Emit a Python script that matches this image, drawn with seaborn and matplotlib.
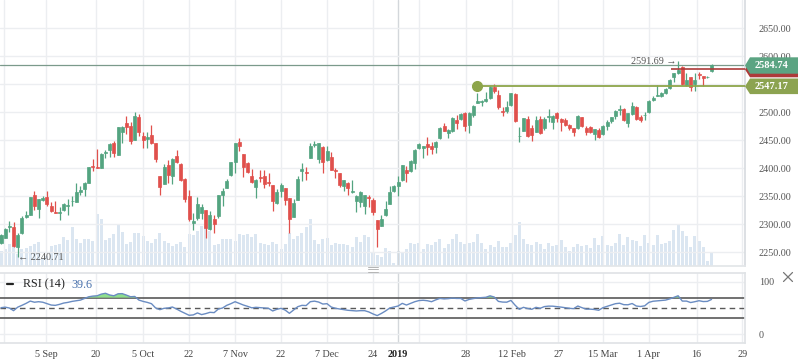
import numpy as np
import pandas as pd
import matplotlib
matplotlib.use('Agg')
import matplotlib.pyplot as plt
from matplotlib.patches import Polygon
from matplotlib.lines import Line2D
import seaborn as sns

# daily candles (bar index 0..170)
opens = [2267, 2276, 2295, 2296, 2260, 2284, 2313, 2317, 2352, 2328, 2344, 2348, 2333, 2322, 2321, 2326, 2333, 2341, 2340, 2358,
         2363, 2374, 2404, 2402, 2401, 2427, 2433, 2445, 2424, 2465, 2480, 2476, 2451, 2491, 2458, 2452, 2460, 2445, 2386, 2372,
         2405, 2386, 2422, 2408, 2381, 2350, 2303, 2311, 2320, 2326, 2292, 2310, 2314, 2353, 2364, 2388, 2412, 2447, 2425, 2409,
         2386.3, 2367.2, 2384, 2386.3, 2375.5, 2370.2, 2337.5, 2360.1, 2365.4, 2347.6, 2313.7, 2344, 2396, 2394, 2419, 2441.6,
         2417.2, 2437.5, 2414.8, 2419.6, 2396.5, 2391, 2368.4, 2374.4, 2357.5, 2342.2, 2340.4, 2332.7, 2349, 2343.4, 2307.1,
         2297.6, 2316.6, 2336.3, 2359.5, 2368.4, 2379.1, 2397, 2395.2, 2410.1, 2435.7, 2435.7, 2443.4, 2439.8, 2438.6, 2454.7,
         2475.5, 2463.6, 2467.2, 2486.3, 2487.5, 2499.4, 2477.3, 2495.2, 2517.2, 2519, 2521, 2524.9, 2545.8, 2530.9,
         2502, 2502.9, 2513, 2532.7, 2457, 2467.2, 2487.5, 2471.4, 2465.4, 2487.5, 2471.4, 2491.6, 2483.3, 2499.4, 2488.1,
         2486.3, 2477.3, 2471.4, 2471.4, 2491, 2472.6, 2473.2, 2460.7, 2468.4, 2460.7, 2475.5, 2485.1, 2493.4, 2504.5, 2505.3,
         2481.5, 2497, 2510.1, 2491, 2494.3, 2500, 2522, 2529.5, 2529.1, 2535.1, 2542.8, 2562.4, 2569.6, 2581.5, 2548.8,
         2562.4, 2550.5, 2567.5, 2564.8, 2562.4, 2574]
highs = [2283, 2293, 2305, 2304, 2284, 2314, 2324, 2349, 2359, 2346, 2351, 2359, 2339, 2342, 2330, 2338, 2345, 2350, 2373, 2368,
         2376, 2403, 2416, 2434, 2427, 2433, 2445, 2449, 2474, 2476, 2493, 2483, 2500, 2497, 2464, 2464, 2477, 2446, 2387, 2408,
         2415, 2418, 2433, 2409, 2382, 2361, 2321, 2348, 2336, 2326, 2323, 2317, 2352, 2365, 2381, 2412, 2446, 2454, 2425, 2411,
         2398.8, 2380.3, 2397, 2397, 2391, 2370.2, 2362.5, 2373.2, 2365.4, 2347.6, 2344.6, 2386.3, 2408.9, 2401.7, 2444.6,
         2449.4, 2445.8, 2439.8, 2439.8, 2428.5, 2399.9, 2392.2, 2379.1, 2376.1, 2379.1, 2352.3, 2359.5, 2352.3, 2352.3,
         2347.6, 2307.1, 2316.6, 2341.6, 2368.4, 2370.2, 2386.3, 2405.9, 2404.1, 2414.8, 2433.9, 2445.8, 2439.8, 2455.3,
         2447, 2448.2, 2473, 2481.5, 2469.6, 2492.2, 2495.2, 2498.2, 2501.1, 2499.9, 2513, 2533.9, 2522.5, 2536.9, 2547.6,
         2550.5, 2539.8,
         2510.1, 2520.2, 2535.1, 2533.9, 2474.4, 2489.2, 2493.4, 2477.3, 2493.4, 2493.4, 2491, 2505.3, 2495.2, 2501.1, 2489.2,
         2489.2, 2478.5, 2471.4, 2495.2, 2492.2, 2475.5, 2475.5, 2470.8, 2471.4, 2477.3, 2486.3, 2492.2, 2504.1, 2513, 2507.1,
         2499.4, 2519, 2511.3, 2495.2, 2501.1, 2522, 2529.1, 2548.8, 2535.7, 2542.8, 2558.9, 2570.8, 2591.69, 2582.7, 2569.6,
         2563.6, 2570.8, 2572.6, 2564.8, 2564.8, 2585.5]
lows = [2264, 2275, 2287, 2260, 2240.71, 2283, 2312, 2317, 2326, 2312, 2342, 2333, 2322, 2321, 2307, 2323, 2316, 2333, 2340, 2352,
        2351, 2373, 2396, 2401, 2401, 2418, 2421, 2421, 2423, 2446, 2462, 2443, 2451, 2458, 2437, 2437, 2443, 2411, 2352, 2372,
        2374, 2372, 2410, 2377, 2340, 2305, 2290, 2308, 2309, 2276, 2290, 2285, 2312, 2333, 2364, 2386, 2392, 2431, 2385, 2392,
        2374.4, 2347.6, 2376.1, 2365.4, 2368.4, 2324.4, 2336.3, 2349.4, 2334.5, 2285.1, 2312.5, 2343.4, 2377.9, 2379.1,
        2417.8, 2437.5, 2410.1, 2392.2, 2413.6, 2397, 2383.3, 2367.2, 2360.1, 2352.3, 2355.3, 2322.6, 2330.3, 2318.4, 2330.3,
        2316.6, 2260.1, 2297, 2315.4, 2335.7, 2357.1, 2351.2, 2377.9, 2376.1, 2394, 2398.2, 2433.9, 2419, 2424.4, 2425.6,
        2426.7, 2452.9, 2466.6, 2454.7, 2465.4, 2470.8, 2485.7, 2466.6, 2463.6, 2492.2, 2516, 2511.9, 2519, 2523.2, 2534.5,
        2506.5,
        2494, 2498.2, 2511.9, 2483.3, 2447.6, 2466, 2456.5, 2449.4, 2464.2, 2461.3, 2468.4, 2483.3, 2470.2, 2483.3, 2467.2,
        2476.1, 2468.4, 2457.7, 2470.2, 2474.4, 2459.5, 2462.5, 2450.5, 2453.5, 2458.9, 2468.4, 2481.5, 2487.5, 2495.2, 2484.5,
        2473.2, 2495.2, 2486.3, 2482.1, 2486.3, 2498.2, 2520.8, 2529.1, 2526.7, 2532.7, 2541.6, 2554.7, 2568.4, 2549.4, 2547,
        2538.6, 2538.6, 2558.9, 2547, 2560.7, 2571.4]
closes = [2281, 2291, 2297, 2261, 2281, 2312, 2317, 2348, 2332, 2345, 2347, 2336, 2323, 2321, 2322, 2336, 2334, 2342, 2358, 2361,
          2373, 2402, 2403, 2401, 2426, 2429, 2443, 2428, 2473, 2473, 2473, 2449, 2493, 2465, 2451, 2455, 2445, 2417, 2367, 2402,
          2388, 2417, 2412, 2379, 2345, 2310, 2306, 2336, 2331, 2294, 2316, 2301, 2352, 2360, 2377, 2411, 2445, 2439, 2403, 2394,
          2375.5, 2379.1, 2382, 2372, 2373.5, 2342.2, 2358.3, 2370.2, 2343.4, 2310.1, 2337.5, 2380.9, 2398, 2392, 2439.8,
          2443.6, 2445.8, 2411.9, 2431.5, 2397, 2395.2, 2370.2, 2379.1, 2365.4, 2359, 2350.6, 2357.1, 2352.3, 2347.5, 2322,
          2292.2, 2308.9, 2326.8, 2357.7, 2368.4, 2375.5, 2405.3, 2391, 2413, 2432.7, 2442.8, 2439.8, 2437.5, 2433.9, 2447,
          2472, 2467.2, 2468.4, 2490.4, 2481.5, 2497, 2476.1, 2498.2, 2511.3, 2519.5, 2521, 2523, 2544.6, 2538, 2510.1,
          2500.5, 2508.9, 2533.9, 2484.5, 2458.5, 2489.2, 2457.7, 2459.5, 2486.3, 2463.6, 2488.1, 2493.4, 2493.4, 2489.2,
          2483.3, 2477.3, 2472.6, 2465.4, 2493.4, 2475.5, 2465.4, 2465.4, 2469.6, 2456.5, 2475.5, 2483.3, 2491, 2502.9, 2506,
          2486.3, 2498.2, 2511.9, 2487.5, 2486.3, 2496, 2520.2, 2526.1, 2531, 2535.1, 2541, 2557.7, 2569.6, 2575.5, 2550.5,
          2557.7, 2544.6, 2557.7, 2565.7, 2560.7, 2563.6, 2584.74]
volumes = [45, 52, 67, 60, 35, 50, 55, 60, 67, 73, 20, 30, 60, 63, 67, 87, 78, 117, 80, 70,
           82, 82, 75, 157, 140, 77, 83, 97, 122, 102, 67, 72, 100, 98, 90, 75, 70, 80, 100, 75,
           70, 60, 67, 72, 57, 95, 92, 105, 120, 120, 105, 62, 65, 80, 80, 80, 75, 97, 92, 97,
           88, 97, 70, 67, 62, 73, 67, 52, 67, 98, 82, 90, 100, 118, 140, 78, 67, 80, 85, 63,
           70, 67, 65, 62, 58, 88, 73, 93, 88, 38, 34, 28, 55, 45, 10, 45, 38, 52, 70, 67,
           70, 50, 67, 64, 73, 80, 55, 67, 80, 97, 73, 67, 70, 73, 97, 70, 52, 62, 58, 76,
           58, 58, 70, 94, 133, 82, 67, 64, 73, 67, 52, 70, 61, 64, 79, 58, 46, 58, 67, 61,
           64, 55, 85, 64, 91, 64, 61, 70, 97, 64, 88, 79, 76, 61, 94, 70, 64, 94, 67, 70,
           76, 109, 127, 106, 91, 58, 91, 76, 58, 16, 40]
rsi = [50.6, 51.6, 50.0, 44.9, 51.6, 55.1, 58.9, 63.3, 61.1, 62.1, 61.1, 58.3, 55.7, 55.1, 57.0, 59.5, 60.8, 62.7, 64.0, 65.2,
       68.4, 71.6, 72.9, 73.5, 76.7, 78.3, 75.0, 73.5, 77.3, 77.6, 74.8, 71.6, 72.2, 65.2, 62.7, 60.8, 58.3, 50.0, 46.8, 49.4,
       50.0, 51.9, 48.1, 43.7, 39.8, 36.0, 36.7, 40.5, 37.3, 39.2, 41.7, 41.1, 48.1, 50.0, 55.1, 58.3, 62.1, 58.9, 55.7, 53.2,
       50.3, 51.3, 50.6, 50.0, 49.4, 44.3, 47.5, 49.4, 45.9, 39.8, 46.2, 52.5, 55.1, 54.7, 62.1, 63.2, 61.4, 57.6, 58.3, 51.9,
       49.4, 48.1, 46.8, 45.6, 44.9, 44.3, 44.9, 44.9, 42.4, 38.6, 35.4, 39.5, 44.3, 50.0, 51.9, 53.8, 58.9, 55.7, 58.9, 62.1,
       64.3, 64.9, 64.0, 62.1, 65.6, 68.4, 67.5, 68.0, 69.0, 68.4, 68.4, 63.5, 66.5, 68.1, 69.4, 69.9, 70.6, 73.4, 71.1, 62.7,
       61.4, 61.2, 64.6, 55.4, 47.5, 51.3, 49.0, 47.5, 51.3, 49.4, 52.7, 53.6, 53.5, 52.7, 51.7, 50.6, 49.4, 48.7, 53.8, 50.6,
       47.8, 47.8, 47.1, 45.6, 50.6, 53.2, 55.7, 58.3, 59.2, 56.4, 56.2, 58.6, 53.8, 52.9, 54.2, 60.8, 63.0, 63.7, 64.6, 65.2,
       67.5, 70.6, 73.5, 63.3, 63.3, 60.5, 62.1, 64.0, 62.4, 62.7, 66.5]

date_ticks = [0.6, 10.8, 22.7, 33.9, 45, 56, 67, 78, 89, 95, 100, 111.2, 122.2, 133.3, 144, 155, 166.4, 177.3]
date_labels = ['', '5 Sep', '20', '5 Oct', '22', '7 Nov', '22', '7 Dec', '24', '2019', '', '28', '12 Feb', '27',
               '15 Mar', '1 Apr', '16', '29']
price_ticks = [2250, 2300, 2350, 2400, 2450, 2500, 2550, 2600, 2650]
# 2550 sits under the level tag on the scale, so it carries no text
price_labels = ['2250.00', '2300.00', '2350.00', '2400.00', '2450.00', '2500.00', '', '2600.00', '2650.00']

last_close = 2584.74
level_line = 2547.17
red_level = 2577
high_mark = 2591.69
low_mark = 2240.71

sns.set_theme(style='white')
plt.rcParams['font.family'] = ['Liberation Serif', 'DejaVu Serif']

df = pd.DataFrame({'open': opens, 'high': highs, 'low': lows, 'close': closes,
                   'volume': volumes, 'rsi': rsi})
df['bar'] = np.arange(len(df))
green, red = '#53a480', '#e0504c'
cols = np.where(df['close'] >= df['open'], green, red)

W, H = 798, 363
fig = plt.figure(figsize=(W / 100, H / 100), dpi=100)


def px(x, y):
    return x / W, 1 - y / H


ax = fig.add_axes([0, 1 - 266 / H, 745 / W, 266 / H])
ax_r = fig.add_axes([0, 1 - 343 / H, 745 / W, 70 / H], sharex=ax)
ax_v = ax.twinx()
ax_v.set_zorder(1)
ax.set_zorder(2)
ax.patch.set_visible(False)
ax_v.patch.set_visible(True)
ax_v.patch.set_facecolor('white')

# volume
ax_v.bar(df['bar'], df['volume'], width=0.72, color='#dbe6f1', linewidth=0)
ax_v.set_ylim(0, 798)
ax_v.set_yticks([])
for s in ax_v.spines.values():
    s.set_visible(False)

# candles
ax.vlines(df['bar'], df['low'], df['high'], colors=cols, lw=0.9, zorder=3)
ax.bar(df['bar'], (df['close'] - df['open']).abs(), bottom=df[['open', 'close']].min(axis=1),
       width=0.72, color=cols, edgecolor=cols, linewidth=0.5, zorder=4)

# reference lines
ax.axhline(last_close, color='#7b9a8b', lw=0.9, zorder=2)
ax.hlines(level_line, 114, 178, color='#8da54a', lw=1.3, zorder=5)
ax.plot([114], [level_line], 'o', color='#8da54a', ms=7, zorder=6)
ax.hlines(red_level, 160.3, 178, color='#ad3b3a', lw=1.2, zorder=5)
ax.text(161.5, 2590, f'{high_mark:.2f} \u2192', ha='right', va='center', fontsize=7.3, color='#555555', zorder=6)
ax.text(4.15, 2241.5, f'\u2190 {low_mark:.2f}', ha='left', va='center', fontsize=7.3, color='#555555', zorder=6)

ax.set_xlim(-0.24, 178)
ax.set_ylim(2225.5, 2700.5)
ax.yaxis.tick_right()
ax.set_yticks(price_ticks)
ax.set_yticklabels(price_labels)
ax.tick_params(axis='y', length=0, pad=10, labelsize=7.3, labelcolor='#555555')
ax.tick_params(axis='x', length=0, labelbottom=False)
ax.grid(True, color='#eceef1', lw=1)
ax.set_axisbelow(True)
for k in ['top', 'left']:
    ax.spines[k].set_visible(False)
ax.spines['right'].set_color('#d8dce0')
ax.spines['bottom'].set_color('#e3e6e9')

# RSI pane
ax_r.fill_between(df['bar'], 70, df['rsi'], where=df['rsi'] > 70, interpolate=True,
                  color='#8ee08c', lw=0, zorder=2)
sns.lineplot(x='bar', y='rsi', data=df, ax=ax_r, color='#6a8cc2', lw=1, zorder=3)
ax_r.axhline(70, color='#595959', lw=1.2, zorder=1)
ax_r.axhline(30, color='#595959', lw=1.2, zorder=1)
ax_r.axhline(50, color='#595959', lw=1, ls=(0, (4, 3)), zorder=1)
ax_r.set_ylim(-17.3, 117.3)
ax_r.set_xlabel('')
ax_r.set_ylabel('')
ax_r.yaxis.tick_right()
ax_r.set_yticks([0, 100])
ax_r.set_yticklabels(['0', '100'])
ax_r.set_xticks(date_ticks)
ax_r.set_xticklabels(date_labels)
ax_r.tick_params(axis='y', length=0, pad=10, labelsize=7.3, labelcolor='#555555')
ax_r.tick_params(axis='x', length=0, pad=5, labelsize=7.3, labelcolor='#444444')
ax_r.grid(True, color='#eceef1', lw=1)
ax_r.set_axisbelow(True)
ax_r.spines['left'].set_visible(False)
for k in ['top', 'right', 'bottom']:
    ax_r.spines[k].set_color('#e0e3e6')
ax_r.get_xticklabels()[9].set_fontweight('bold')
ax_r.get_xticklabels()[9].set_color('#222222')
for a in (ax, ax_r):
    a.xaxis.get_gridlines()[9].set_color('#d3d7db')

# legend of RSI pane
fig.add_artist(Line2D([7 / W, 13 / W], [1 - 284 / H] * 2, color='#222222', lw=1.6))
fig.text(*px(23, 284.5), 'RSI (14)', fontsize=8.7, color='#222222', va='center')
fig.text(*px(71, 284.5), '39.6', fontsize=8.7, color='#4a72ad', va='center')

# close cross
fig.add_artist(Line2D([783.5 / W, 792.5 / W], [1 - 272.5 / H, 1 - 281.5 / H], color='#777777', lw=0.9))
fig.add_artist(Line2D([783.5 / W, 792.5 / W], [1 - 281.5 / H, 1 - 272.5 / H], color='#777777', lw=0.9))

# pane resize handle
for yy in (267, 269.3, 271.5):
    fig.add_artist(Line2D([368 / W, 378 / W], [1 - yy / H] * 2, color='#b5b5b5', lw=0.7))


# price tags on the right scale
def tag(yc, half, color, text=None):
    pts = [px(745, yc), px(750, yc - half), px(798, yc - half), px(798, yc + half), px(750, yc + half)]
    fig.add_artist(Polygon(pts, closed=True, transform=fig.transFigure, facecolor=color,
                           edgecolor='none', zorder=10))
    if text:
        t = fig.text(*px(771.5, yc), text, ha='center', va='center', fontsize=7.5,
                     fontweight='bold', color='white')
        t.set_zorder(11)


tag(69.5, 7.8, '#ad3b3a')
tag(65.5, 8.2, '#5ba482', f'{last_close:.2f}')
tag(86.3, 7.8, '#8ca350', f'{level_line:.2f}')

fig.savefig('out.png', dpi=100)
